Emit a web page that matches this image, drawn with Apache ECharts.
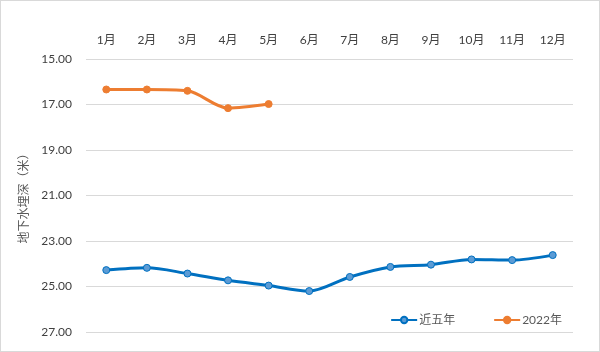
<!DOCTYPE html>
<html>
<head>
<meta charset="utf-8">
<script src="https://cdn.jsdelivr.net/npm/echarts@6/dist/echarts.min.js"></script>
<style>
  html, body { margin: 0; padding: 0; background: #fff; }
  #chart { width: 600px; height: 352px; box-sizing: border-box; border: 1px solid #d9d9d9; }
</style>
</head>
<body>
<div id="chart"></div>
<script>
const months = ['1月', '2月', '3月', '4月', '5月', '6月', '7月', '8月', '9月', '10月', '11月', '12月'];
const recentFiveYears = [24.28, 24.18, 24.43, 24.73, 24.96, 25.2, 24.58, 24.14, 24.04, 23.81, 23.84, 23.62];
const year2022 = [16.34, 16.34, 16.4, 17.16, 16.98];

const fontFamily = 'Lato, "Noto Sans CJK SC", sans-serif';

const chart = echarts.init(document.getElementById('chart'));

chart.setOption({
  animation: false,
  textStyle: { fontFamily },
  grid: {
    left: 85,
    right: 26,
    top: 58,
    bottom: 19
  },
  legend: {
    right: 32,
    bottom: 20,
    itemWidth: 26,
    itemHeight: 8,
    itemGap: 38,
    textStyle: { color: '#595959', fontSize: 12, fontFamily, padding: [0, 0, 0, -3] },
    data: ['近五年', '2022年']
  },
  xAxis: {
    type: 'category',
    position: 'top',
    data: months,
    axisLine: { show: false },
    axisTick: { show: false },
    axisLabel: { color: '#404040', fontSize: 12, margin: 13 }
  },
  yAxis: {
    type: 'value',
    inverse: true,
    min: 15,
    max: 27,
    interval: 2,
    name: '地下水埋深（米）',
    nameLocation: 'middle',
    nameGap: 52,
    nameTextStyle: { color: '#595959', fontSize: 12 },
    axisLine: { show: false },
    axisTick: { show: false },
    splitLine: { lineStyle: { color: '#d9d9d9', width: 1 } },
    axisLabel: {
      color: '#404040',
      fontSize: 12,
      margin: 14,
      formatter: v => v.toFixed(2)
    }
  },
  series: [
    {
      name: '近五年',
      type: 'line',
      data: recentFiveYears,
      smooth: 0.3,
      symbol: 'circle',
      symbolSize: 7,
      lineStyle: { color: '#0070C0', width: 3 },
      itemStyle: { color: '#5B9BD5', borderColor: '#0070C0', borderWidth: 1 }
    },
    {
      name: '2022年',
      type: 'line',
      data: year2022,
      smooth: 0.3,
      symbol: 'circle',
      symbolSize: 7,
      lineStyle: { color: '#ED7D31', width: 3 },
      itemStyle: { color: '#ED7D31', borderColor: '#ED7D31', borderWidth: 1 }
    }
  ]
});
</script>
</body>
</html>
